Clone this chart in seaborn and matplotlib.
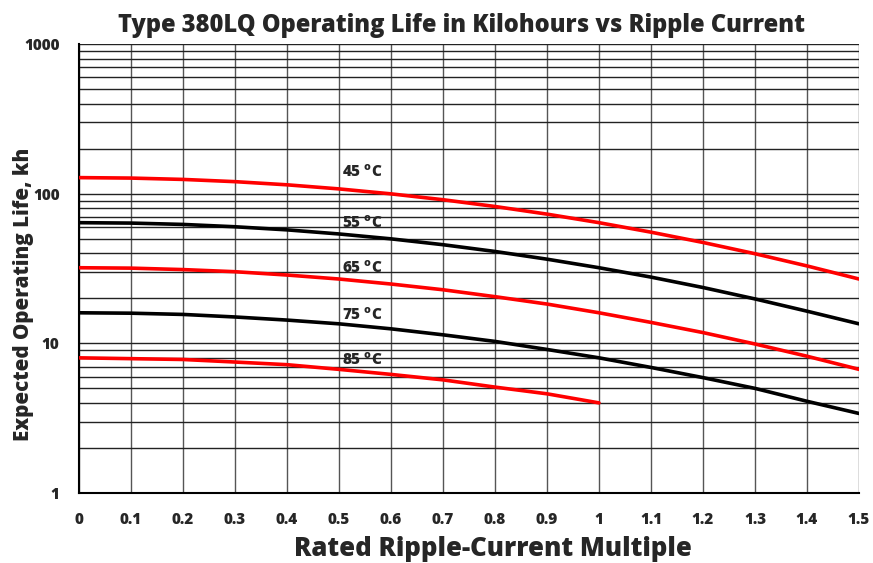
import matplotlib
matplotlib.use("Agg")
import matplotlib.pyplot as plt
import seaborn as sns
import pandas as pd
from matplotlib.ticker import FixedLocator, LogLocator, NullFormatter

# -------------------------
# Data
# -------------------------
ripple = [0.0, 0.1, 0.2, 0.3, 0.4, 0.5, 0.6, 0.7, 0.8, 0.9, 1.0,
          1.1, 1.2, 1.3, 1.4, 1.5]
life_45 = [128, 127.1, 124.5, 120.3, 114.6, 107.6, 99.7, 91.1, 82.1, 73.0, 64,
           55.3, 47.2, 39.7, 32.9, 26.9]
life_55 = [64, 63.6, 62.3, 60.1, 57.3, 53.8, 49.9, 45.6, 41.1, 36.5, 32,
           27.7, 23.6, 19.8, 16.4, 13.5]
life_65 = [32, 31.8, 31.1, 30.1, 28.6, 26.9, 24.9, 22.8, 20.5, 18.3, 16,
           13.8, 11.8, 9.9, 8.2, 6.7]
life_75 = [16, 15.9, 15.6, 15.0, 14.3, 13.5, 12.5, 11.4, 10.3, 9.1, 8,
           6.9, 5.9, 5.0, 4.1, 3.4]
life_85 = [8, 7.9, 7.8, 7.5, 7.2, 6.7, 6.2, 5.7, 5.1, 4.6, 4.0]

temps = ['45', '55', '65', '75', '85']
series = [life_45, life_55, life_65, life_75, life_85]
colors = ['#ff0000', '#000000', '#ff0000', '#000000', '#ff0000']
label_y = [138, 63, 31.5, 15.4, 7.7]

x_ticks = [0, 0.1, 0.2, 0.3, 0.4, 0.5, 0.6, 0.7, 0.8, 0.9, 1, 1.1, 1.2, 1.3, 1.4, 1.5]
x_tick_labels = ['0', '0.1', '0.2', '0.3', '0.4', '0.5', '0.6', '0.7', '0.8', '0.9',
                 '1', '1.1', '1.2', '1.3', '1.4', '1.5']
y_ticks = [1, 10, 100, 1000]
y_tick_labels = ['1', '10', '100', '1000']

# -------------------------
# Build long table
# -------------------------
rows = []
for t, vals in zip(temps, series):
    for x, v in zip(ripple, vals):
        rows.append({'ripple': x, 'life': v, 'temp': t})
df = pd.DataFrame(rows)

sns.set_style('white')
plt.rcParams['font.family'] = ['Open Sans', 'DejaVu Sans']
plt.rcParams['font.weight'] = 'heavy'
plt.rcParams['mathtext.fontset'] = 'custom'
plt.rcParams['mathtext.rm'] = 'Open Sans:heavy'
plt.rcParams['mathtext.bf'] = 'Open Sans:heavy'

fig = plt.figure(figsize=(8.73, 5.63), dpi=100)
ax = fig.add_axes([79 / 873, 1 - 493 / 563, 780 / 873, 449 / 563])

sns.lineplot(data=df, x='ripple', y='life', hue='temp', palette=dict(zip(temps, colors)),
             linewidth=2.6, legend=False, ax=ax, zorder=3)

ax.set_yscale('log')
ax.set_xlim(0, 1.5)
ax.set_ylim(1, 1000)

# grid
ax.xaxis.set_major_locator(FixedLocator(x_ticks))
ax.set_xticklabels(x_tick_labels)
ax.yaxis.set_major_locator(FixedLocator(y_ticks))
ax.set_yticklabels(y_tick_labels)
ax.yaxis.set_minor_locator(LogLocator(base=10, subs=range(2, 10)))
ax.yaxis.set_minor_formatter(NullFormatter())
ax.grid(True, which='both', axis='y', color='#222222', linewidth=1.0)
ax.grid(True, which='major', axis='x', color='#555555', linewidth=1.0)

for s in ['top', 'right']:
    ax.spines[s].set_visible(False)
for s in ['left', 'bottom']:
    ax.spines[s].set_color('black')
    ax.spines[s].set_linewidth(1.5)

ax.tick_params(axis='both', which='major', labelsize=11, length=0, pad=14)
ax.tick_params(axis='y', which='minor', length=0)
for lbl in ax.get_xticklabels() + ax.get_yticklabels():
    lbl.set_fontweight('heavy')

# temperature labels
for t, yv in zip(temps, label_y):
    ax.text(0.505, yv, t + r' $^{\mathrm{o}}$C', fontsize=11, fontweight='heavy',
            ha='left', va='center', zorder=4)

ax.set_title('Type 380LQ Operating Life in Kilohours vs Ripple Current',
             fontsize=17, fontweight='heavy', pad=9, x=0.491)
ax.set_xlabel('Rated Ripple-Current Multiple', fontsize=18.5, fontweight='heavy')
ax.xaxis.set_label_coords(0.531, -0.095)
ax.set_ylabel('Expected Operating Life, kh', fontsize=14.8, fontweight='heavy')
ax.yaxis.set_label_coords(-0.058, 0.443)

fig.savefig('out.png', dpi=100)
